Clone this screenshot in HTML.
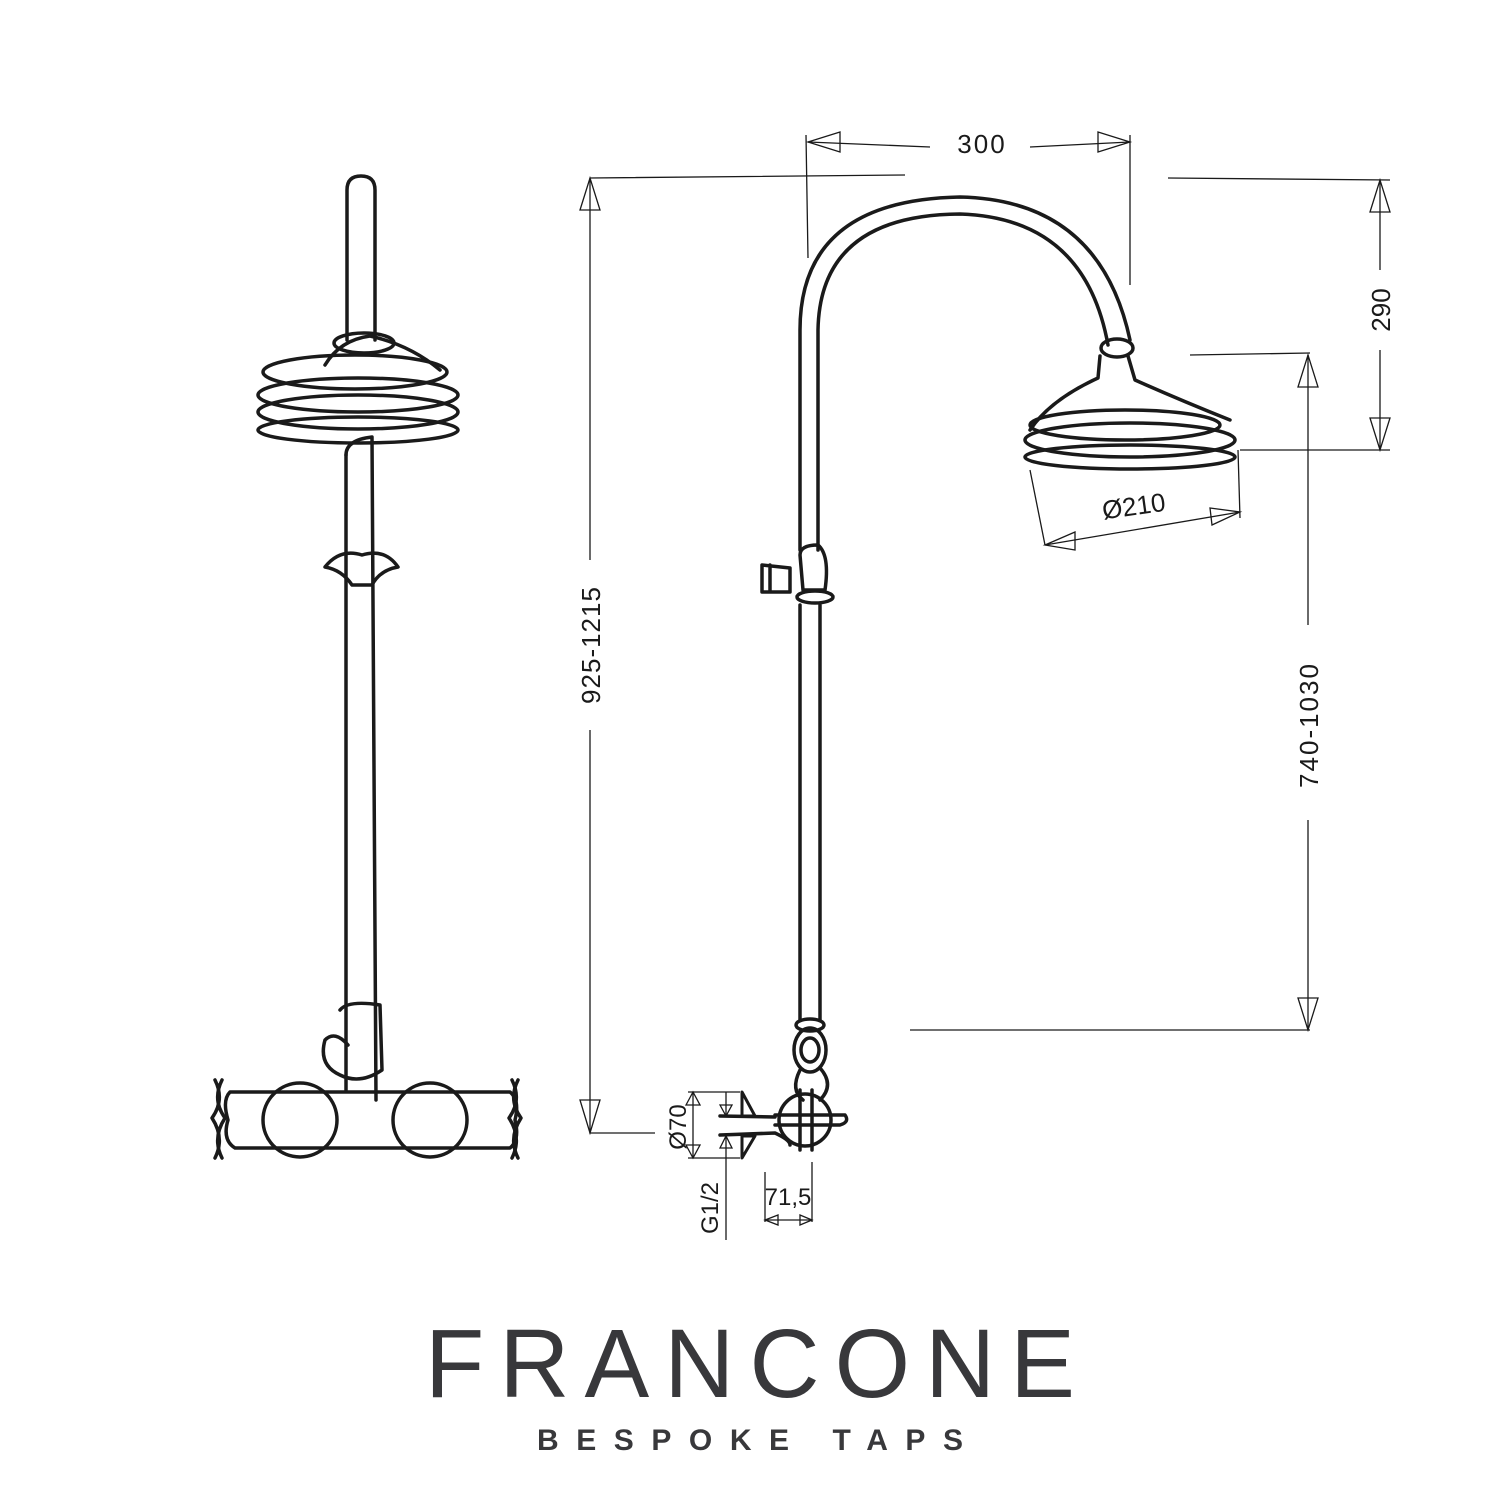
<!DOCTYPE html>
<html><head><meta charset="utf-8"><style>
html,body{margin:0;padding:0;background:#fff;width:1500px;height:1500px;overflow:hidden}
svg{display:block}
</style></head><body>
<svg width="1500" height="1500" viewBox="0 0 1500 1500" xmlns="http://www.w3.org/2000/svg">
<g fill="none" stroke="#1a1a1a" stroke-width="3.5" stroke-linecap="round" stroke-linejoin="round">
<!-- LEFT VIEW -->
<path d="M347 340 L347 190 Q347 176 361 176 Q375 176 375 190 L375 340"/>
<ellipse cx="364" cy="343" rx="30" ry="10"/>
<path d="M325 365 Q340 340 370 336 Q410 345 440 370"/>
<ellipse cx="355" cy="372" rx="92" ry="17"/>
<ellipse cx="358" cy="395" rx="100" ry="17"/>
<ellipse cx="358" cy="412" rx="100" ry="17"/>
<ellipse cx="358" cy="430" rx="100" ry="13"/>
<path d="M346 455 Q346 440 372 437 L376 1100"/>
<path d="M346 455 L346 1090"/>
<path d="M325 567 Q340 548 362 555 Q385 548 398 567 Q380 570 372 585 L352 585 Q342 570 325 567 Z"/>
<path d="M340 1010 Q348 1000 380 1005 L382 1070 Q360 1085 340 1075 Q318 1065 325 1040 Q335 1030 348 1045"/>
<path d="M230 1092 L510 1092 Q520 1100 515 1120 Q520 1140 510 1148 L235 1148 Q222 1140 228 1120 Q222 1100 230 1092 Z"/>
<circle cx="300" cy="1120" r="37"/>
<circle cx="430" cy="1120" r="37"/>
<path d="M215 1080 Q225 1100 212 1118 Q225 1138 215 1158"/>
<path d="M222 1080 Q212 1100 225 1118 Q212 1138 222 1158"/>
<path d="M512 1080 Q522 1100 509 1118 Q522 1138 512 1158"/>
<path d="M518 1080 Q508 1100 521 1118 Q508 1138 518 1158"/>
<!-- RIGHT VIEW -->
<path d="M800 550 L800 330 Q800 200 960 197 Q1100 200 1130 340"/>
<path d="M818 550 L818 330 Q820 215 960 214 Q1085 218 1108 345"/>
<ellipse cx="1117" cy="348" rx="16" ry="9"/>
<path d="M1100 356 L1098 378 Q1050 400 1030 430"/>
<path d="M1128 356 L1135 380 Q1180 400 1230 420"/>
<ellipse cx="1125" cy="425" rx="95" ry="15"/>
<ellipse cx="1130" cy="440" rx="105" ry="17"/>
<ellipse cx="1130" cy="457" rx="105" ry="12"/>
<path d="M800 555 Q800 545 818 545 Q830 555 825 590 L803 590 Z"/>
<path d="M762 565 L790 568 L790 592 L762 592 Z M770 565 L770 592"/>
<ellipse cx="815" cy="597" rx="18" ry="6"/>
<path d="M800 605 L800 1020 M820 605 L820 1020"/>
<ellipse cx="810" cy="1025" rx="14" ry="6"/>
<ellipse cx="810" cy="1050" rx="16" ry="22"/>
<ellipse cx="810" cy="1050" rx="9" ry="12"/>
<path d="M800 1070 Q790 1090 803 1100 M820 1068 Q835 1085 820 1100"/>
<circle cx="805" cy="1120" r="26"/>
<path d="M775 1115 L845 1115 Q850 1122 840 1125 L775 1125"/>
<path d="M800 1090 L800 1150 M812 1090 L812 1150"/>
<path d="M720 1116 L775 1117 M720 1135 L775 1133 Q790 1140 790 1145"/>
<path d="M742 1092 L755 1116 L742 1116 Z M742 1158 L755 1136 L742 1136 Z" stroke-width="3"/>
</g>
<!-- dimension lines -->
<g fill="none" stroke="#1a1a1a" stroke-width="1.3">
<path d="M590 178 L905 175 M590 178 L590 560 M590 730 L590 1133 L655 1133"/>
<path d="M580 210 L590 178 L600 210 Z M580 1100 L590 1133 L600 1100 Z"/>
<path d="M1168 178 L1390 180 M1380 180 L1380 270 M1380 350 L1380 450 M1240 450 L1390 450"/>
<path d="M1370 212 L1380 180 L1390 212 Z M1370 418 L1380 450 L1390 418 Z"/>
<path d="M1190 355 L1310 353 M1308 355 L1308 625 M1308 820 L1308 1030 M910 1030 L1310 1030"/>
<path d="M1298 387 L1308 355 L1318 387 Z M1298 998 L1308 1030 L1318 998 Z"/>
<path d="M808 258 L806 135 M1130 285 L1130 135 M808 142 L930 147 M1030 147 L1130 142"/>
<path d="M840 132 L808 142 L840 152 Z M1098 132 L1130 142 L1098 152 Z"/>
<path d="M1030 470 L1045 545 M1238 450 L1240 518 M1045 545 L1240 512"/>
<path d="M1075 532 L1045 545 L1075 550 Z M1210 508 L1240 512 L1212 525 Z"/>
<path d="M688 1092 L740 1092 M688 1158 L740 1158 M693 1092 L693 1158 M726 1092 L726 1115 M726 1137 L726 1240"/>
<path d="M686 1105 L693 1092 L700 1105 Z M686 1145 L693 1158 L700 1145 Z M720 1105 L726 1116 L732 1105 Z M720 1148 L726 1136 L732 1148 Z"/>
<path d="M765 1172 L765 1222 M812 1162 L812 1222 M765 1220 L812 1220"/>
<path d="M778 1215 L765 1220 L778 1225 Z M800 1215 L812 1220 L800 1225 Z"/>
</g>
<g font-family="Liberation Sans, sans-serif" fill="#1a1a1a" font-size="26">
<text x="982" y="153" text-anchor="middle" letter-spacing="2">300</text>
<text transform="translate(1390 310) rotate(-90)" text-anchor="middle">290</text>
<text transform="translate(600 645) rotate(-90)" text-anchor="middle" letter-spacing="1">925-1215</text>
<text transform="translate(1318 725) rotate(-90)" text-anchor="middle" letter-spacing="2">740-1030</text>
<text transform="translate(1135 515) rotate(-8)" text-anchor="middle">Ø210</text>
<text transform="translate(686 1127) rotate(-90)" text-anchor="middle" font-size="24">Ø70</text>
<text transform="translate(718 1208) rotate(-90)" text-anchor="middle" font-size="24">G1/2</text>
<text x="788" y="1205" text-anchor="middle" font-size="24">71,5</text>
</g>
<text x="425" y="1397" textLength="650" lengthAdjust="spacing" font-family="Liberation Sans, sans-serif" font-size="97" fill="#38383b">FRANCONE</text>
<text x="537" y="1450" textLength="426" lengthAdjust="spacing" font-family="Liberation Sans, sans-serif" font-weight="bold" font-size="30" fill="#38383b">BESPOKE TAPS</text>
</svg>
</body></html>
